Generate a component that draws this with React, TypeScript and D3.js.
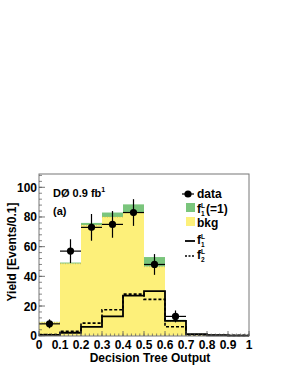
import React from "react";
import * as d3 from "d3";

// bins of 0.1 on decision tree output
const binEdges = [0, 0.1, 0.2, 0.3, 0.4, 0.5, 0.6, 0.7, 0.8, 0.9, 1.0];
const bkg = [9, 48.5, 74.5, 80, 83, 46.5, 9.5, 1, 0.4, 0.2];
const sigF1 = [0.3, 0.8, 1.5, 3, 5.5, 6.5, 1.2, 0.2, 0, 0];
const f1L = [0.5, 2, 6, 13, 27, 30, 10, 1, 0.3, 0.1];
const f2L = [0.8, 3, 8.5, 17.5, 28, 24.5, 6, 0.5, 0.3, 0.2];
const dataX = [0.05, 0.15, 0.25, 0.35, 0.45, 0.55, 0.65];
const dataY = [8, 57, 73, 75, 83, 48, 13];
const dataErr = [3, 8, 9, 9, 9, 7, 4];
const xTicks = [0, 0.1, 0.2, 0.3, 0.4, 0.5, 0.6, 0.7, 0.8, 0.9, 1];
const yTicks = [0, 20, 40, 60, 80, 100];

const W = 283;
const H = 366;
const frame = { left: 39, right: 249, top: 174, bottom: 336 };
const yellow = "#fdf07a";
const green = "#7ac57c";
const font = "Liberation Sans, Arial, sans-serif";

function stepPath(vals: number[], x: d3.ScaleLinear<number, number>, y: d3.ScaleLinear<number, number>) {
  const pts: [number, number][] = [];
  vals.forEach((v, i) => {
    pts.push([x(binEdges[i]), y(v)]);
    pts.push([x(binEdges[i + 1]), y(v)]);
  });
  return d3.line()(pts) || "";
}

function FLabel({ x, y, sub, rest }: { x: number; y: number; sub: string; rest?: string }) {
  return (
    <g>
      <text x={x} y={y}>f</text>
      <text x={x + 4} y={y - 5.5} fontSize={6.5}>L</text>
      <text x={x + 4} y={y + 2.5} fontSize={6.5}>{sub}</text>
      {rest ? <text x={x + 9} y={y}>{rest}</text> : null}
    </g>
  );
}

export default function App() {
  const x = d3.scaleLinear().domain([0, 1]).range([frame.left, frame.right]);
  const y = d3.scaleLinear().domain([0, 100]).range([335.7, 187.3]);

  const minorX = d3.range(0, 1.0001, 0.02);
  const minorY = d3.range(0, 109, 4);

  return (
    <svg width={W} height={H} style={{ position: "absolute", left: 0, top: 0 }} fontFamily={font}>
      <rect width={W} height={H} fill="#fff" />
      {/* background stack */}
      {bkg.map((b, i) => (
        <g key={i}>
          <rect x={x(binEdges[i])} width={x(binEdges[i + 1]) - x(binEdges[i])}
            y={y(b + sigF1[i])} height={y(b) - y(b + sigF1[i])} fill={green} />
          <rect x={x(binEdges[i])} width={x(binEdges[i + 1]) - x(binEdges[i])}
            y={y(b)} height={y(0) - y(b)} fill={yellow} />
          <line x1={x(binEdges[i])} x2={x(binEdges[i + 1])} y1={y(b)} y2={y(b)}
            stroke="#c9b83a" strokeWidth={0.8} strokeDasharray="1,1.5" />
        </g>
      ))}
      {/* model lines */}
      <path d={stepPath(f2L, x, y)} fill="none" stroke="#000" strokeWidth={1.6} strokeDasharray="3,2" />
      <path d={stepPath(f1L, x, y)} fill="none" stroke="#000" strokeWidth={1.8} />

      {/* data */}
      {dataX.map((dx, i) => (
        <g key={i} stroke="#000" strokeWidth={1.2}>
          <line x1={x(dx - 0.05)} x2={x(dx + 0.05)} y1={y(dataY[i])} y2={y(dataY[i])} />
          <line x1={x(dx)} x2={x(dx)} y1={y(dataY[i] - dataErr[i])} y2={y(dataY[i] + dataErr[i])} />
          <circle cx={x(dx)} cy={y(dataY[i])} r={3.6} fill="#000" stroke="none" />
        </g>
      ))}

      {/* frame */}
      <rect x={frame.left} y={frame.top} width={frame.right - frame.left} height={frame.bottom - frame.top}
        fill="none" stroke="#777" strokeWidth={1} />

      {/* ticks */}
      {minorX.map((t, i) => (
        <line key={"mx" + i} x1={x(t)} x2={x(t)} y1={frame.bottom} y2={frame.bottom - 2.5} stroke="#555" strokeWidth={0.7} />
      ))}
      {xTicks.map((t, i) => (
        <g key={"x" + i}>
          <line x1={x(t)} x2={x(t)} y1={frame.bottom} y2={frame.bottom - 5} stroke="#555" strokeWidth={0.8} />
          <text x={x(t)} y={349} textAnchor="middle" fontSize={12} fontWeight="bold">{t === 0 ? "0" : t === 1 ? "1" : t.toFixed(1)}</text>
        </g>
      ))}
      {minorY.map((t, i) => (
        <line key={"my" + i} x1={frame.left} x2={frame.left + 3} y1={y(t)} y2={y(t)} stroke="#555" strokeWidth={0.7} />
      ))}
      {yTicks.map((t, i) => (
        <g key={"y" + i}>
          <line x1={frame.left} x2={frame.left + 6} y1={y(t)} y2={y(t)} stroke="#555" strokeWidth={0.8} />
          <text x={37} y={y(t) + 4.5} textAnchor="end" fontSize={12} fontWeight="bold">{t}</text>
        </g>
      ))}

      {/* axis titles */}
      <text x={150} y={362} textAnchor="middle" fontSize={12} fontWeight="bold">Decision Tree Output</text>
      <text transform="translate(16,252) rotate(-90)" textAnchor="middle" fontSize={12} fontWeight="bold">Yield [Events/0.1]</text>

      {/* annotation */}
      <text x={53} y={197} fontSize={11} fontWeight="bold">DØ 0.9 fb<tspan fontSize={7} dy={-5}>1</tspan></text>
      <text x={53} y={215} fontSize={11} fontWeight="bold">(a)</text>

      {/* legend */}
      <g fontSize={12} fontWeight="bold">
        <line x1={182} x2={194} y1={194} y2={194} stroke="#000" strokeWidth={1.2} />
        <circle cx={188} cy={194} r={3.6} fill="#000" />
        <text x={197} y={198}>data</text>

        <rect x={186} y={203} width={9} height={9} fill={green} />
        <FLabel x={197} y={213} sub="1" rest="(=1)" />

        <rect x={186} y={217} width={9} height={9} fill={yellow} />
        <text x={197} y={227}>bkg</text>

        <line x1={185} x2={195} y1={241} y2={241} stroke="#000" strokeWidth={1.8} />
        <FLabel x={197} y={244} sub="1" />

        <line x1={185} x2={195} y1={256} y2={256} stroke="#000" strokeWidth={1.6} strokeDasharray="2,1.5" />
        <FLabel x={197} y={259} sub="2" />
      </g>
    </svg>
  );
}
